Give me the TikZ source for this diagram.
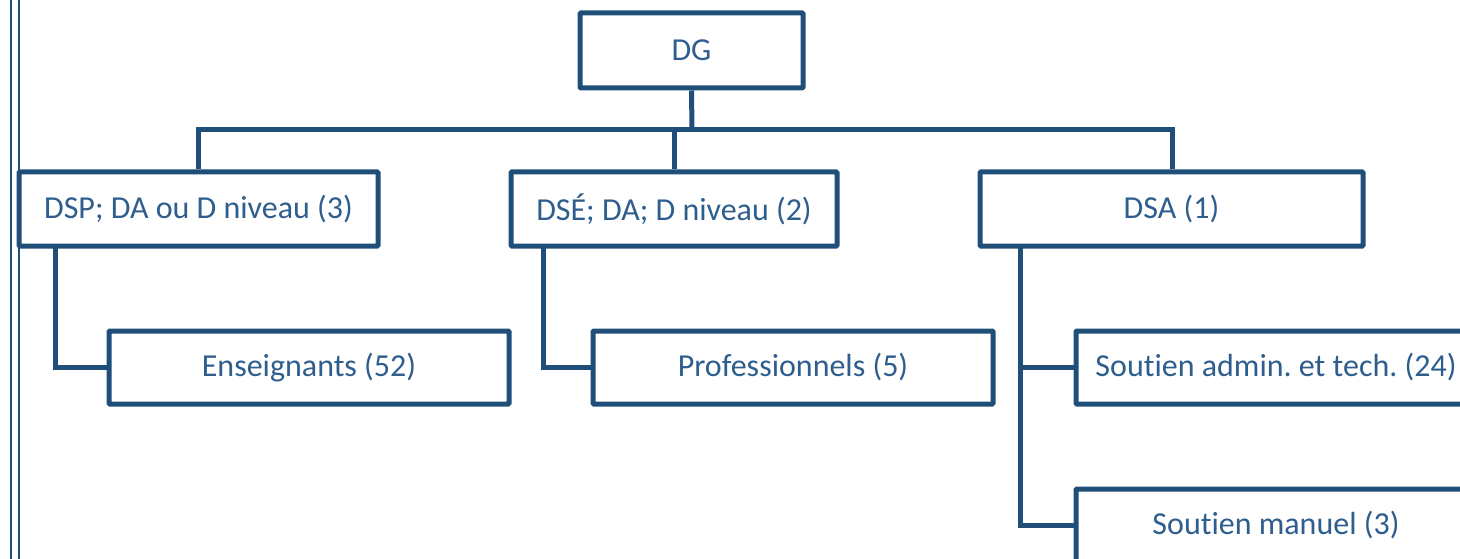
\documentclass[tikz,border=0pt]{standalone}
\usepackage{fontspec}
\setmainfont[Ligatures=NoCommon]{Carlito}
\definecolor{lineblue}{RGB}{31,78,121}
\definecolor{textblue}{RGB}{46,94,142}
\frenchspacing
\begin{document}
\begin{tikzpicture}[x=1pt,y=-1pt,
  orgbox/.style={draw=lineblue, line width=5pt, rounded corners=1pt, fill=white,
    inner sep=0pt, minimum height=74pt, text=textblue, font=\fontsize{32}{36}\selectfont\frenchspacing},
  link/.style={draw=lineblue, line width=5pt}]
\useasboundingbox (0,0) rectangle (1460,559);
\clip (0,0) rectangle (1460,559);
% left page border (double line)
\draw[lineblue, line width=2pt] (11,-5) -- (11,570);
\draw[lineblue, line width=2pt] (19,-5) -- (19,570);
% nodes
\node[orgbox, minimum width=223pt, minimum height=75pt] (dg) at (691.5,50.5) {DG};
\node[orgbox, minimum width=359pt] (dsp) at (198.5,209) {DSP; DA ou D niveau (3)};
\node[orgbox, minimum width=326pt] (dse) at (674,209) {DSÉ; DA; D niveau (2)};
\node[orgbox, minimum width=383pt] (dsa) at (1171.5,209) {DSA (1)};
\node[orgbox, minimum width=400pt, minimum height=73pt] (ens) at (309,367.5) {Enseignants (52)};
\node[orgbox, minimum width=400pt, minimum height=73pt] (pro) at (793,367.5) {Professionnels (5)};
\node[orgbox, minimum width=400pt, minimum height=73pt] (sat) at (1276,367.5) {Soutien admin. et tech. (24)};
\node[orgbox, minimum width=400pt, minimum height=73pt] (sm) at (1276,525.5) {Soutien manuel (3)};
% coordinates
\coordinate (bus) at (692,130);
\coordinate (busL) at (198,130);
\coordinate (busM) at (674,130);
\coordinate (busR) at (1172,130);
\coordinate (dspdrop) at (55,246);
\coordinate (dsedrop) at (543,246);
\coordinate (dsadrop) at (1020,246);
% connectors
\draw[link] (dg.south) -- (bus);
\draw[link, line cap=rect] (busL) -- (busR);
\draw[link] (busL) -- (busL |- dsp.north);
\draw[link] (busM) -- (busM |- dse.north);
\draw[link] (busR) -- (busR |- dsa.north);
\draw[link, line join=miter] (dspdrop) |- (ens.west);
\draw[link, line join=miter] (dsedrop) |- (pro.west);
\draw[link] (dsadrop) |- (sat.west);
\draw[link, line join=miter] (dsadrop) |- (sm.west);
\end{tikzpicture}
\end{document}
